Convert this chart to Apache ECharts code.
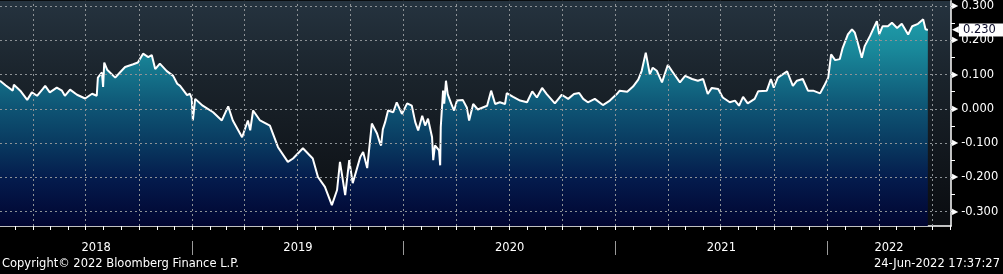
<!DOCTYPE html>
<html><head><meta charset="utf-8">
<script src="https://cdn.jsdelivr.net/npm/echarts@6/dist/echarts.min.js"></script>
<style>html,body{margin:0;padding:0;background:#000;overflow:hidden}#c{width:1003px;height:274px}</style>
</head><body><div id="c"></div>
<script>
const dates = ['2018-02-03','2018-02-13','2018-02-25','2018-02-27','2018-03-10','2018-03-22','2018-03-30','2018-04-08','2018-04-18','2018-04-22','2018-04-30','2018-05-12','2018-05-21','2018-05-26','2018-06-04','2018-06-16','2018-06-30','2018-07-12','2018-07-20','2018-07-22','2018-07-29','2018-07-31','2018-08-02','2018-08-07','2018-08-21','2018-08-29','2018-09-07','2018-09-21','2018-09-29','2018-10-08','2018-10-17','2018-10-23','2018-10-29','2018-11-06','2018-11-18','2018-11-29','2018-12-06','2018-12-11','2018-12-23','2018-12-28','2018-12-31',
'2019-01-02','2019-01-06','2019-01-19','2019-02-06','2019-02-21','2019-03-04','2019-03-12','2019-03-28','2019-04-07','2019-04-11','2019-04-16','2019-04-28','2019-05-15','2019-05-29','2019-06-15','2019-06-24','2019-07-11','2019-07-28','2019-08-06','2019-08-18','2019-08-30','2019-09-08','2019-09-13','2019-09-22','2019-09-29','2019-10-05','2019-10-18','2019-10-23','2019-10-30','2019-11-07','2019-11-16','2019-11-21','2019-11-23','2019-11-26','2019-11-30','2019-12-05','2019-12-14','2019-12-20','2019-12-29',
'2020-01-07','2020-01-15','2020-01-21','2020-01-26','2020-02-02','2020-02-07','2020-02-12','2020-02-19','2020-02-21','2020-02-24','2020-03-02','2020-03-04','2020-03-05','2020-03-09','2020-03-11','2020-03-14','2020-03-17','2020-03-23','2020-03-28','2020-04-02','2020-04-12','2020-04-19','2020-04-23','2020-04-30','2020-05-08','2020-05-24','2020-05-31','2020-06-07','2020-06-15','2020-06-24','2020-06-27','2020-07-08','2020-07-20','2020-08-01','2020-08-10','2020-08-18','2020-08-27','2020-09-04','2020-09-18','2020-09-30','2020-10-11','2020-10-21','2020-10-30','2020-11-06','2020-11-14','2020-11-26','2020-12-10','2020-12-22',
'2021-01-03','2021-01-08','2021-01-21','2021-01-31','2021-02-09','2021-02-15','2021-02-22','2021-03-01','2021-03-06','2021-03-13','2021-03-22','2021-04-01','2021-04-10','2021-04-22','2021-05-01','2021-05-13','2021-05-23','2021-06-01','2021-06-09','2021-06-16','2021-06-27','2021-07-05','2021-07-17','2021-07-26','2021-08-02','2021-08-09','2021-08-17','2021-08-29','2021-09-04','2021-09-19','2021-09-26','2021-10-01','2021-10-08','2021-10-24','2021-11-03','2021-11-10','2021-11-20','2021-11-29','2021-12-08','2021-12-20','2021-12-27',
'2022-01-03','2022-01-08','2022-01-15','2022-01-23','2022-01-28','2022-02-06','2022-02-13','2022-02-18','2022-02-23','2022-03-02','2022-03-07','2022-03-16','2022-03-28','2022-04-01','2022-04-07','2022-04-16','2022-04-23','2022-05-02','2022-05-10','2022-05-21','2022-05-28','2022-06-07','2022-06-16','2022-06-20','2022-06-24'];

const values = [0.082,0.068,0.053,0.070,0.053,0.026,0.048,0.038,0.058,0.067,0.048,0.062,0.053,0.038,0.056,0.041,0.030,0.044,0.038,0.091,0.106,0.064,0.135,0.114,0.091,0.106,0.122,0.130,0.135,0.161,0.151,0.157,0.116,0.132,0.110,0.096,0.073,0.067,0.040,0.044,0.030,
-0.034,0.029,0.009,-0.010,-0.034,0.007,-0.034,-0.083,-0.034,-0.063,-0.005,-0.034,-0.049,-0.112,-0.155,-0.145,-0.115,-0.145,-0.199,-0.228,-0.281,-0.237,-0.155,-0.252,-0.150,-0.217,-0.141,-0.126,-0.173,-0.043,-0.072,-0.100,-0.107,-0.060,-0.039,-0.005,-0.010,0.019,-0.015,
0.016,0.009,-0.039,-0.063,-0.020,-0.049,-0.029,-0.083,-0.150,-0.107,-0.121,-0.165,-0.054,0.053,0.015,0.082,0.043,0.015,-0.005,0.024,0.026,0.004,-0.034,0.014,-0.002,0.009,0.053,0.014,0.019,0.014,0.046,0.035,0.024,0.019,0.051,0.033,0.061,0.043,0.016,0.041,0.029,0.043,0.046,0.029,0.019,0.029,0.011,0.024,
0.043,0.053,0.050,0.065,0.085,0.111,0.164,0.101,0.120,0.111,0.077,0.128,0.106,0.077,0.096,0.087,0.082,0.087,0.043,0.061,0.058,0.033,0.019,0.024,0.009,0.035,0.016,0.029,0.051,0.053,0.087,0.062,0.091,0.109,0.067,0.082,0.087,0.053,0.053,0.045,0.067,
0.091,0.159,0.142,0.145,0.178,0.217,0.232,0.222,0.193,0.149,0.183,0.212,0.256,0.217,0.241,0.241,0.251,0.236,0.248,0.217,0.241,0.248,0.261,0.232,0.230];

const yTickLabels = [-0.3, -0.2, -0.1, 0, 0.1, 0.2, 0.3];
const yMinorTicks = [-0.3, -0.25, -0.2, -0.15, -0.1, -0.05, 0, 0.05, 0.1, 0.15, 0.2, 0.25, 0.3];
const yearLabels = [2018, 2019, 2020, 2021, 2022];
const axisStart = '2018-02-03';
const axisEnd = '2022-08-03';
const yMin = -0.342, yMax = 0.315;
const copyrightText = 'Copyright\u00a9 2022 Bloomberg Finance L.P.';
const stampText = '24-Jun-2022 17:37:27';

function ts(s) { const p = s.split('-').map(Number); return Date.UTC(p[0], p[1] - 1, p[2]); }
const xMin = ts(axisStart), xMax = ts(axisEnd);

const monthTicks = [], quarterLines = [];
for (let y = 2018; y <= 2022; y++) for (let m = 0; m < 12; m++) {
  const t = Date.UTC(y, m, 1);
  if (t > xMin && t <= xMax) { monthTicks.push(t); if (m % 3 === 0) quarterLines.push(t); }
}
const yearSeps = yearLabels.slice(1).map(y => Date.UTC(y, 0, 1));
const yearCenters = yearLabels.map(y => {
  const lo = Math.max(Date.UTC(y, 0, 1), xMin), hi = Math.min(Date.UTC(y + 1, 0, 1), xMax);
  return (lo + hi) / 2;
});

const FONT = 'DejaVu Sans';
const seriesData = dates.map((d, i) => [ts(d), values[i]]);
const lastVal = values[values.length - 1];

const gridLine = { color: '#8d9296', width: 1, type: [2, 3] };
const markData = []
  .concat(yTickLabels.map(v => ({ yAxis: v, lineStyle: gridLine, label: { show: false } })))
  .concat(quarterLines.map(t => ({ xAxis: t, lineStyle: gridLine, label: { show: false } })))
  .concat([{ yAxis: lastVal, lineStyle: { color: 'rgba(0,0,0,0)', width: 0, opacity: 1 },
    label: { show: true, position: 'end', distance: 1, formatter: () => '{a|\u25C0}{b|' + lastVal.toFixed(3) + '}',
      opacity: 1,
      rich: {
        a: { color: '#ffffff', fontSize: 9, fontFamily: FONT, lineHeight: 15, padding: [0, 0, 0, 0] },
        b: { backgroundColor: '#ffffff', color: '#0c0c2a', fontFamily: FONT, fontSize: 11.5,
             padding: [1, 14, 0, 4], lineHeight: 14 }
      } } }]);

const chart = echarts.init(document.getElementById('c'), null, { renderer: 'canvas' });
chart.setOption({
  animation: false,
  backgroundColor: '#000',
  title: [
    { text: copyrightText, left: 2, top: 258, padding: 0,
      textStyle: { color: '#ffffff', fontSize: 11.5, fontWeight: 'normal', fontFamily: FONT } },
    { text: stampText, right: 3, top: 258, padding: 0,
      textStyle: { color: '#ffffff', fontSize: 11.5, fontWeight: 'normal', fontFamily: FONT } }
  ],
  grid: { left: 0, right: 52, top: 0, bottom: 48, show: true, borderWidth: 0,
    backgroundColor: { type: 'linear', x: 0, y: 0, x2: 0, y2: 1, colorStops: [
      { offset: 0, color: '#25333f' }, { offset: 0.35, color: '#1a232b' }, { offset: 1, color: '#0a0c10' }] } },
  xAxis: [
    { type: 'value', min: xMin, max: xMax, position: 'bottom',
      axisLine: { show: true, onZero: false, lineStyle: { color: '#ffffff', width: 1.5 } },
      axisTick: { show: true, customValues: monthTicks, length: 4, lineStyle: { color: '#ffffff' } },
      axisLabel: { show: false }, splitLine: { show: false } },
    { type: 'value', min: xMin, max: xMax, position: 'bottom', offset: 15,
      axisLine: { show: false, onZero: false },
      axisTick: { show: true, customValues: yearSeps, length: 14, lineStyle: { color: '#9a9a9a', width: 1 } },
      axisLabel: { show: true, customValues: yearCenters, margin: 1,
        formatter: v => String(new Date(v).getUTCFullYear()),
        color: '#ffffff', fontSize: 11.5, fontFamily: FONT },
      splitLine: { show: false } }
  ],
  yAxis: {
    type: 'value', position: 'right', min: yMin, max: yMax,
    axisLine: { show: true, onZero: false, lineStyle: { color: '#ffffff', width: 1.5 } },
    axisTick: { show: true, customValues: yMinorTicks, length: 4, lineStyle: { color: '#ffffff' } },
    axisLabel: { show: true, customValues: yTickLabels, margin: 1,
      formatter: v => '{t|\u25B6}' + v.toFixed(3),
      color: '#ffffff', fontSize: 11.5, fontFamily: FONT,
      rich: { t: { fontSize: 8, color: '#ffffff', padding: [0, 3, 0, 0], fontFamily: FONT } } },
    splitLine: { show: false }
  },
  series: [{
    type: 'line', xAxisIndex: 0, data: seriesData, showSymbol: false, symbol: 'none', clip: false,
    lineStyle: { color: '#ffffff', width: 2 },
    areaStyle: { origin: 'start', opacity: 1,
      color: { type: 'linear', x: 0, y: 0, x2: 0, y2: 1, colorStops: [
        { offset: 0, color: '#1f9ca9' }, { offset: 0.15, color: '#19889a' },
        { offset: 0.43, color: '#0e5474' }, { offset: 0.6, color: '#093a60' },
        { offset: 0.78, color: '#041a4c' }, { offset: 1, color: '#010530' }] } },
    markLine: { silent: true, symbol: ['none', 'none'], animation: false, data: markData }
  }]
});
</script>
</body></html>
